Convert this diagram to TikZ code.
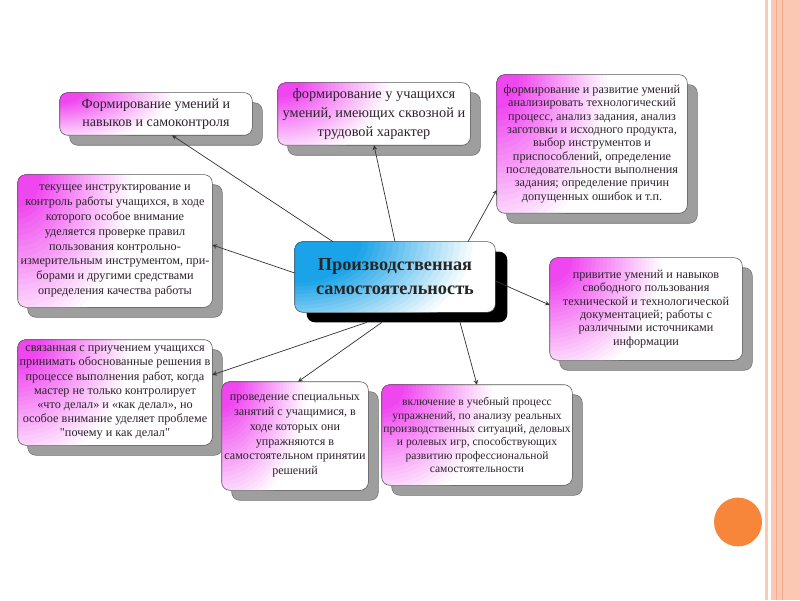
\documentclass[tikz,border=0pt]{standalone}
\usepackage{fontspec}
\setmainfont{Liberation Serif}

\definecolor{pinkc}{RGB}{240,70,240}
\definecolor{bluec}{RGB}{26,163,232}
\definecolor{peach}{RGB}{251,200,180}
\definecolor{peachdark}{RGB}{244,170,140}
\definecolor{orangec}{RGB}{247,133,58}
\definecolor{txt}{RGB}{45,35,45}

\tikzset{
  boxframe/.style={inner sep=0pt},
  boxline/.style={draw=black!65, rounded corners=0.2cm},
  boxshadow/.style={fill=black!38, draw=black!55, rounded corners=0.2cm},
  link/.style={->, black!80, line width=0.5pt}
}

% corner glow made of elliptic rings, from light to strong
\newcommand\cornerglow[5]{%
  \foreach \k in {30,29,...,1} {%
    \pgfmathsetmacro\pc{min(100,(1-\k/30)*#5)}%
    \fill[#2!\pc!white] (#1) ellipse ({\k*#3/30} and {\k*#4/30});
  }}

% name, centre, width, height, font, text
\newcommand\notebox[6]{%
  \node[boxframe, minimum width=#3, minimum height=#4] (#1) at (#2) {};
  \path[boxshadow] ([shift={(0.25cm,-0.25cm)}]#1.south west) rectangle ([shift={(0.25cm,-0.25cm)}]#1.north east);
  \begin{scope}
    \clip[rounded corners=0.2cm] (#1.south west) rectangle (#1.north east);
    \fill[white] (#1.south west) rectangle (#1.north east);
    \cornerglow{#1.north west}{pinkc}{0.6*#3}{1.25*#4}{125}
  \end{scope}
  \path[boxline] (#1.south west) rectangle (#1.north east);
  \node[align=center, text=txt, font=#5] (#1-t) at (#1) {#6};
}

\begin{document}
\begin{tikzpicture}[>=stealth]
\useasboundingbox (0,0) rectangle (20,15);
\fill[white] (0,0) rectangle (20,15);

% right border of the slide
\fill[peach] (19.12,0) rectangle (19.2,15);
\fill[peach] (19.28,0) rectangle (20,15);
\draw[peachdark, line width=0.4pt] (19.4,0) -- (19.4,15);
\draw[peachdark, line width=0.4pt] (19.55,0) -- (19.55,15);
\fill[orangec] (18.45,1.95) ellipse (0.6cm and 0.61cm);

% centre
\node[boxframe, minimum width=5cm, minimum height=1.75cm] (c) at (9.875,8.075) {};
\fill[black, rounded corners=0.2cm] ([shift={(0.3cm,-0.25cm)}]c.south west) rectangle ([shift={(0.3cm,-0.25cm)}]c.north east);
\begin{scope}
  \clip[rounded corners=0.2cm] (c.south west) rectangle (c.north east);
  \fill[white] (c.south west) rectangle (c.north east);
  \cornerglow{c.north west}{bluec}{4.6cm}{2.8cm}{160}
\end{scope}
\path[boxline] (c.south west) rectangle (c.north east);
\node[align=center, text=black!85, font=\fontsize{13}{17}\selectfont\bfseries] (c-t) at (c)
  {Производственная\\самостоятельность};

\notebox{b1}{3.9,12.15}{4.8cm}{1.05cm}{\fontsize{10}{12.8}\selectfont}
  {Формирование умений и\\навыков и самоконтроля}
\notebox{b2}{9.35,12.15}{4.8cm}{1.55cm}{\fontsize{10.2}{13.4}\selectfont}
  {формирование у учащихся\\умений, имеющих сквозной и\\трудовой характер}
\notebox{b3}{14.8,11.4}{4.75cm}{3.45cm}{\fontsize{8.7}{9.5}\selectfont}
  {формирование и развитие умений\\анализировать технологический\\процесс, анализ задания, анализ\\заготовки и исходного продукта,\\выбор инструментов и\\приспособлений, определение\\последовательности выполнения\\задания; определение причин\\допущенных ошибок и т.п.}
\notebox{b4}{2.875,8.975}{4.85cm}{3.3cm}{\fontsize{8.7}{10.6}\selectfont}
  {текущее инструктирование и\\контроль работы учащихся, в ходе\\которого особое внимание\\уделяется проверке правил\\пользования контрольно-\\измерительным инструментом, при-\\борами и другими средствами\\определения качества работы}
\notebox{b6}{16.15,7.275}{4.8cm}{2.55cm}{\fontsize{8.7}{9.5}\selectfont}
  {привитие умений и навыков\\свободного пользования\\технической и технологической\\документацией; работы с\\различными источниками\\информации}
\notebox{b7}{2.875,5.1875}{4.85cm}{2.625cm}{\fontsize{8.7}{10}\selectfont}
  {связанная с приучением учащихся\\принимать обоснованные решения в\\процессе выполнения работ, когда\\мастер не только контролирует\\«что делал» и «как делал», но\\особое внимание уделяет проблеме\\\textquotedbl почему и как делал\textquotedbl}
\notebox{b8}{7.375,4.1}{3.65cm}{2.7cm}{\fontsize{8.6}{10.6}\selectfont}
  {проведение специальных\\занятий с учащимися, в\\ходе которых они\\упражняются в\\самостоятельном принятии\\решений}
\notebox{b9}{11.925,4.125}{4.75cm}{2.5cm}{\fontsize{8.2}{9.5}\selectfont}
  {включение в учебный процесс\\упражнений, по анализу реальных\\производственных ситуаций, деловых\\и ролевых игр, способствующих\\развитию профессиональной\\самостоятельности}

\draw[link] ([xshift=-1.55cm]c.north) -- ([xshift=0.4cm]b1.south);
\draw[link] (c.north) -- (b2.south);
\draw[link] ([xshift=1.825cm]c.north) -- ([yshift=-1.15cm]b3.west);
\draw[link] ([yshift=0.1cm]c.west) -- ([yshift=-0.1cm]b4.east);
\draw[link] ([yshift=-0.1cm]c.east) -- ([yshift=0.1cm]b6.west);
\draw[link] ([xshift=-0.7cm,yshift=-0.25cm]c.south) -- ([yshift=0.44cm]b7.east);
\draw[link] ([xshift=-0.325cm,yshift=-0.25cm]c.south) -- ([xshift=0.075cm]b8.north);
\draw[link] ([xshift=1.625cm,yshift=-0.25cm]c.south) -- (b9.north);
\end{tikzpicture}
\end{document}
